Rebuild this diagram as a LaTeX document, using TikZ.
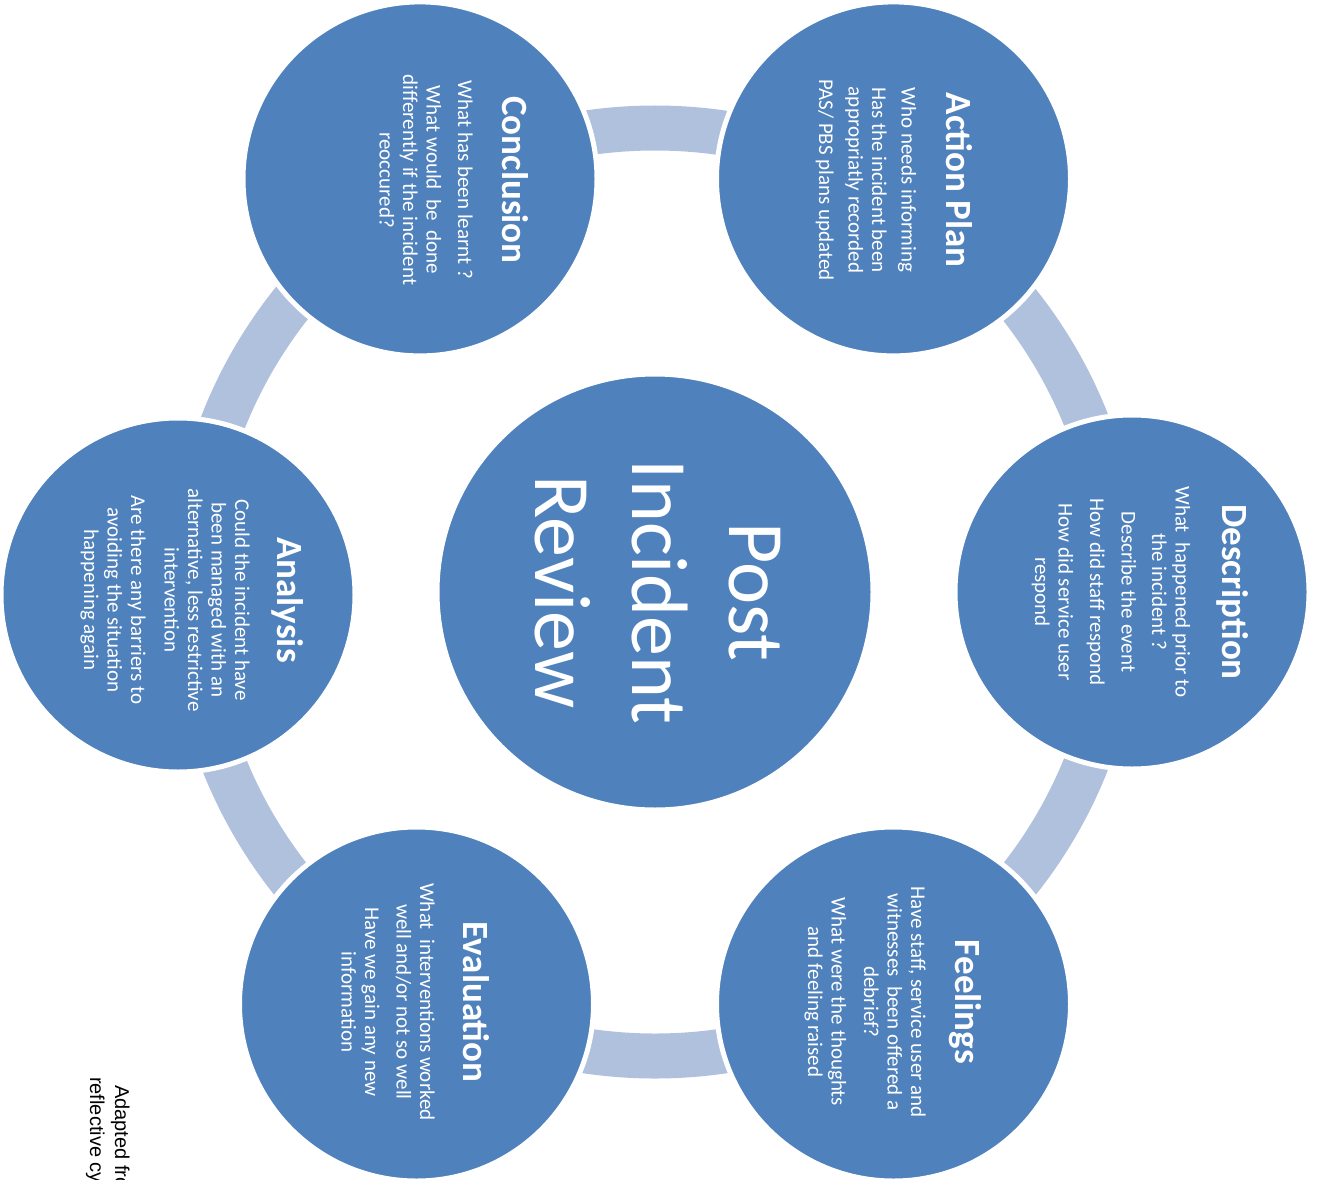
\documentclass[tikz,border=0pt]{standalone}
\usepackage{fontspec}
\setmainfont{Carlito}
\newfontfamily\notefont{Liberation Sans}
\definecolor{circblue}{RGB}{79,129,189}
\definecolor{ringblue}{RGB}{176,193,222}

\begin{document}
\begin{tikzpicture}[x=1pt,y=-1pt,
  stage/.style={circle, fill=circblue, draw=white, line width=5pt,
    minimum size=354pt, inner sep=0pt},
  hub/.style={circle, fill=circblue, draw=white, line width=5pt,
    minimum size=436pt, inner sep=0pt},
  stagetitle/.style={text=white, rotate=-90, inner sep=0pt,
    font=\fontsize{37}{40}\selectfont\bfseries},
  stagebody/.style={text=white, rotate=-90, inner sep=0pt, align=center,
    font=\fontsize{21}{23.5}\selectfont},
  hubtext/.style={text=white, rotate=-90, inner sep=0pt, align=center,
    font=\fontsize{80}{97}\selectfont},
  notetext/.style={text=black, rotate=-90, inner sep=0pt,
    font=\notefont\fontsize{20}{22}\selectfont},
  ring/.style={draw=ringblue, line width=45pt}
]
\useasboundingbox (0,0) rectangle (1325,1180);
\begin{scope}
\clip (0,0) rectangle (1325,1180);

% centre of the cycle
\coordinate (c) at (655,592);

% connecting ring behind the stages
\draw[ring] (c) circle[radius=464pt];

% hub and the six stages
\node[hub] (hub) at (c) {};
\node[stage] (conclusion)  at (420,178.9) {};
\node[stage] (actionplan)  at (893.5,178.9) {};
\node[stage] (description) at (1132,592) {};
\node[stage] (feelings)    at (893.5,1004) {};
\node[stage] (evaluation)  at (416.5,1004) {};
\node[stage] (analysis)    at (178,595) {};

% hub label
\node[hubtext] (hublabel) at (658,592) {Post\\Incident\\Review};

% Conclusion
\node[stagetitle] (conclusiont) at (515,180) {Conclusion};
\node[stagebody] (conclusionb) at (426,180)
  {What has been learnt ?\\[8pt]
   What would\ \ be\ \ done\\
   differently if the incident\\
   reoccured?};

% Action Plan
\node[stagetitle] (actionplant) at (959,180) {Action Plan};
\node[stagebody] (actionplanb) at (866,180)
  {Who needs informing\\[6pt]
   Has the incident been\\
   appropriatly recorded\\[6pt]
   PAS/ PBS plans updated};

% Description
\node[stagetitle] (descriptiont) at (1233,592) {Description};
\node[stagebody] (descriptionb) at (1111,592)
  {What\ \ happened prior to\\
   the incident ?\\[7pt]
   Describe the event\\[8pt]
   How did staff respond\\[8pt]
   How did service user\\
   respond};

% Feelings
\node[stagetitle] (feelingst) at (965,1002) {Feelings};
\node[stagebody] (feelingsb) at (865,1002)
  {Have staff, service user and\\
   witnesses\ \ been offered a\\
   debrief?\\[9pt]
   What were the thoughts\\
   and feeling raised};

% Evaluation
\node[stagetitle] (evaluationt) at (476,1002) {Evaluation};
\node[stagebody] (evaluationb) at (388,1002)
  {What\ \ interventions worked\\
   well and/or not so well\\[8pt]
   Have we gain any new\\
   information};

% Analysis
\node[stagetitle] (analysist) at (288,600) {Analysis};
\node[stagebody] (analysisb) at (165,600)
  {Could the incident have\\
   been managed with an\\
   alternative, less restrictive\\
   intervention\\[10pt]
   Are there any barriers to\\
   avoiding the situation\\
   happening again};

% source note, running off the page edge
\node[notetext, anchor=base west] (note1) at (115,1085) {Adapted from};
\node[notetext, anchor=base west] (note2) at (90,1077) {reflective cycle};
\end{scope}
\end{tikzpicture}
\end{document}
